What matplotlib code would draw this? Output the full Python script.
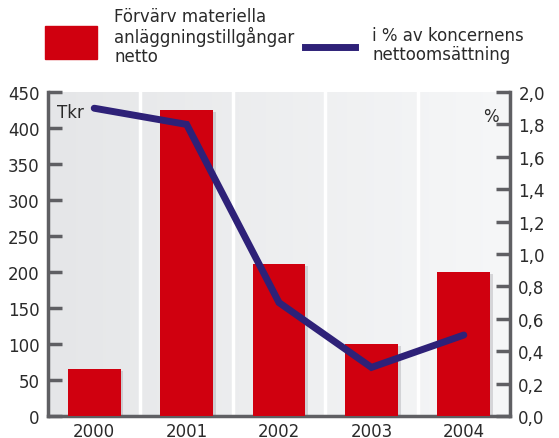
import matplotlib
matplotlib.use("Agg")
import matplotlib.pyplot as plt
import numpy as np

# data
years = ["2000", "2001", "2002", "2003", "2004"]
tkr = [65, 425, 211, 100, 200]
pct = [1.9, 1.8, 0.7, 0.3, 0.5]
left_ticks = [0, 50, 100, 150, 200, 250, 300, 350, 400, 450]
right_ticks = [0.0, 0.2, 0.4, 0.6, 0.8, 1.0, 1.2, 1.4, 1.6, 1.8, 2.0]

red = "#d0000f"
blue = "#2e2178"
spine = "#5f5f63"
txt = "#2a2a2a"

plt.rcParams["font.family"] = "DejaVu Sans"
plt.rcParams["font.size"] = 12

fig = plt.figure(figsize=(5.59, 4.39), dpi=100)
ax = fig.add_axes([0.0859, 0.0501, 0.8265, 0.738])
x = np.arange(len(years))

# soft gradient background
grad = np.linspace(0, 1, 256).reshape(1, -1)
ax.imshow(grad, extent=[-0.5, 4.5, 0, 450], aspect="auto", cmap=matplotlib.colors.LinearSegmentedColormap.from_list("bg", ["#e5e6e8", "#f6f7f8"]), zorder=0)
for k in range(1, len(years)):
    ax.axvline(k - 0.5, color="white", lw=2.5, zorder=1)

# bar shadows
ax.bar(x + 0.03, tkr, width=0.57, color="#9a9aa0", alpha=0.35, zorder=2, bottom=-3)
ax.bar(x, tkr, width=0.57, color=red, zorder=3)

ax.set_xlim(-0.5, 4.5)
ax.set_ylim(0, 450)
ax.set_xticks(x)
ax.set_xticklabels(years)
ax.set_yticks(left_ticks)

ax2 = ax.twinx()
ax2.plot(x, pct, color=blue, lw=5, solid_capstyle="round", solid_joinstyle="miter", zorder=5)
ax2.set_ylim(0, 2.0)
ax2.set_yticks(right_ticks)
ax2.set_yticklabels([("%.1f" % v).replace(".", ",") for v in right_ticks])

for a in (ax, ax2):
    for s in a.spines.values():
        s.set_visible(False)
    a.tick_params(colors=spine, labelcolor=txt, labelsize=12, width=2.5, length=10, direction="in")
ax.spines["left"].set_visible(True)
ax.spines["bottom"].set_visible(True)
ax2.spines["right"].set_visible(True)
for s in (ax.spines["left"], ax.spines["bottom"], ax2.spines["right"]):
    s.set_color(spine)
    s.set_linewidth(2.5)
ax.tick_params(axis="x", length=0, pad=4)
ax.tick_params(axis="y", pad=6)
ax2.tick_params(axis="y", pad=6)

ax.text(0.02, 0.965, "Tkr", transform=ax.transAxes, fontsize=12, color=txt, va="top", ha="left")
ax2.text(0.975, 0.955, "%", transform=ax2.transAxes, fontsize=12, color=txt, va="top", ha="right")

# legend drawn by hand at the top
fig.patches.append(plt.Rectangle((45 / 559, 1 - 60 / 439), 52 / 559, 33 / 439, transform=fig.transFigure, color=red))
fig.add_artist(plt.Line2D([305 / 559, 355 / 559], [1 - 48 / 439, 1 - 48 / 439], transform=fig.transFigure, color=blue, lw=5))
fig.text(114 / 559, 1 - 8 / 439, "Förvärv materiella\nanläggningstillgångar\nnetto", fontsize=12, color=txt, va="top", ha="left", linespacing=1.05)
fig.text(372 / 559, 1 - 27 / 439, "i % av koncernens\nnettoomsättning", fontsize=12, color=txt, va="top", ha="left", linespacing=1.05)

fig.savefig("out.png", dpi=100)
